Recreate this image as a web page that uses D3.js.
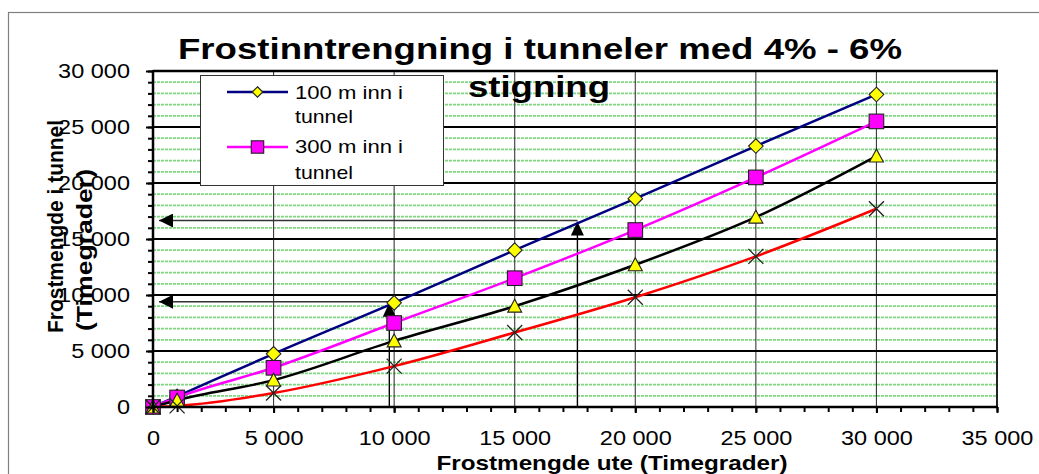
<!DOCTYPE html>
<html>
<head>
<meta charset="utf-8">
<script src="https://cdn.jsdelivr.net/npm/d3@7"></script>
<style>
  html, body { margin: 0; padding: 0; background: #fff; }
  svg { display: block; }
  text { font-family: "Liberation Sans", Arial, sans-serif; fill: #000; }
</style>
</head>
<body>
<svg id="chart" width="1039" height="474"></svg>
<script>
// ---------- data ----------
const xValues   = [0, 1000, 5000, 10000, 15000, 20000, 25000, 30000];
const s100m     = [0, 950, 4750, 9300, 14000, 18600, 23300, 27900];
const s300m     = [0, 850, 3500, 7500, 11500, 15800, 20500, 25500];
const sBlack    = [0, 600, 2400, 5900, 9000, 12700, 16950, 22400];
const sRed      = [0, 100, 1250, 3650, 6650, 9800, 13450, 17700];
const xTickVals = [0, 5000, 10000, 15000, 20000, 25000, 30000, 35000];
const yTickVals = [0, 5000, 10000, 15000, 20000, 25000, 30000];
const arrowX    = [9800, 17600];
const arrowY    = [9400, 16650];
const arrowTipX = 250;
const titleLines = ["Frostinntrengning i tunneler med 4% - 6%", "stigning"];
const xTitle = "Frostmengde ute (Timegrader)";
const yTitleLines = ["Frostmengde i tunnel", "(Timegrader)"];
const legendLabels = [["100 m inn i", "tunnel"], ["300 m inn i", "tunnel"]];

// ---------- setup ----------
const svg = d3.select("#chart");
const L = 153, R = 997, T = 71, B = 407;
const x = d3.scaleLinear().domain([0, 35000]).range([L, R]);
const y = d3.scaleLinear().domain([0, 30000]).range([B, T]);
const fmt = d => d3.format(",")(d).replace(/,/g, " ");

// outer frame
svg.append("rect").attr("x", 8.5).attr("y", 12.5).attr("width", 1040).attr("height", 470)
  .attr("fill", "#fff").attr("stroke", "#808080").attr("stroke-width", 1.2);

// plot background
svg.append("rect").attr("x", L).attr("y", T).attr("width", R - L).attr("height", B - T).attr("fill", "#fff");

// minor green grid
const minorY = y.ticks(30).filter(v => v % 5000 !== 0);
svg.append("g").selectAll("line").data(minorY).join("line")
  .attr("x1", L).attr("x2", R).attr("y1", d => y(d)).attr("y2", d => y(d))
  .attr("stroke", "#7fd87f").attr("stroke-width", 1.7).attr("stroke-dasharray", "3,1");

// vertical grid
svg.append("g").selectAll("line").data(xTickVals.filter(v => v > 0 && v < 35000)).join("line")
  .attr("x1", d => x(d)).attr("x2", d => x(d)).attr("y1", T).attr("y2", B)
  .attr("stroke", "#3a3a3a").attr("stroke-width", 1.1);

// major horizontal grid
svg.append("g").selectAll("line").data(yTickVals.filter(v => v > 0)).join("line")
  .attr("x1", L).attr("x2", R).attr("y1", d => y(d)).attr("y2", d => y(d))
  .attr("stroke", "#000").attr("stroke-width", 2.2);

// right border
svg.append("line").attr("x1", R).attr("x2", R).attr("y1", T - 1).attr("y2", B)
  .attr("stroke", "#222").attr("stroke-width", 2);

// ---------- arrows ----------
const defs = svg.append("defs");
defs.append("marker").attr("id", "ahLeft").attr("markerUnits", "userSpaceOnUse")
  .attr("markerWidth", 16).attr("markerHeight", 16).attr("refX", 0).attr("refY", 7)
  .attr("orient", "0")
  .append("path").attr("d", "M0,7 L14,0 L14,14 Z").attr("fill", "#000");
defs.append("marker").attr("id", "ahUp").attr("markerUnits", "userSpaceOnUse")
  .attr("markerWidth", 16).attr("markerHeight", 16).attr("refX", 6.5).attr("refY", 0)
  .attr("orient", "0")
  .append("path").attr("d", "M6.5,0 L13,14 L0,14 Z").attr("fill", "#000");

const arrows = arrowX.map((ax, i) => ({ ax, ay: arrowY[i] }));
const ag = svg.append("g");
ag.selectAll("line.h").data(arrows).join("line").attr("class", "h")
  .attr("x1", d => x(d.ax)).attr("x2", x(arrowTipX)).attr("y1", d => y(d.ay)).attr("y2", d => y(d.ay))
  .attr("stroke", "#333").attr("stroke-width", 1.4).attr("marker-end", "url(#ahLeft)");
ag.selectAll("line.v").data(arrows).join("line").attr("class", "v")
  .attr("x1", d => x(d.ax)).attr("x2", d => x(d.ax)).attr("y1", B).attr("y2", d => y(d.ay) + 1)
  .attr("stroke", "#000").attr("stroke-width", 1.4).attr("marker-end", "url(#ahUp)");

// ---------- series ----------
const series = [
  { vals: s100m, color: "#000080", marker: "diamond" },
  { vals: s300m, color: "#ff00ff", marker: "square" },
  { vals: sBlack, color: "#000000", marker: "triangle" },
  { vals: sRed, color: "#ff0000", marker: "x" }
];
const line = d3.line().x(d => x(d[0])).y(d => y(d[1])).curve(d3.curveMonotoneX);
series.forEach(s => {
  const pts = xValues.map((xv, i) => [xv, s.vals[i]]);
  svg.append("path").datum(pts).attr("d", line)
    .attr("fill", "none").attr("stroke", s.color).attr("stroke-width", 2.5);
});

function drawMarker(g, type, cx, cy, k) {
  k = k || 1;
  if (type === "diamond") {
    const r = 7.3 * k;
    g.append("path").attr("d", `M${cx},${cy - r}L${cx + r},${cy}L${cx},${cy + r}L${cx - r},${cy}Z`)
      .attr("fill", "#ffff00").attr("stroke", "#222").attr("stroke-width", 1.1);
  } else if (type === "square") {
    const r = 7.3 * k;
    g.append("rect").attr("x", cx - r).attr("y", cy - r).attr("width", 2 * r).attr("height", 2 * r)
      .attr("fill", "#ff00ff").attr("stroke", "#222").attr("stroke-width", 1.1);
  } else if (type === "triangle") {
    const r = 7 * k;
    g.append("path").attr("d", `M${cx},${cy - r}L${cx + r},${cy + r * 0.85}L${cx - r},${cy + r * 0.85}Z`)
      .attr("fill", "#ffff00").attr("stroke", "#222").attr("stroke-width", 1.1);
  } else {
    const r = 7.5 * k;
    g.append("path").attr("d", `M${cx - r},${cy - r}L${cx + r},${cy + r}M${cx - r},${cy + r}L${cx + r},${cy - r}`)
      .attr("stroke", "#222").attr("stroke-width", 1.3).attr("fill", "none");
  }
}
series.forEach(s => {
  const g = svg.append("g");
  xValues.forEach((xv, i) => drawMarker(g, s.marker, x(xv), y(s.vals[i])));
});

// ---------- axes ----------
function stretchText(sel, sx) {
  sel.each(function () {
    const t = d3.select(this);
    const ax = +t.attr("x") || 0;
    t.attr("transform", `translate(${ax},0) scale(${sx},1) translate(${-ax},0)`);
  });
}
// y axis major (outward) with labels
const gy = svg.append("g").attr("transform", `translate(${L},0)`)
  .call(d3.axisLeft(y).tickValues(yTickVals).tickFormat(fmt).tickSize(7).tickPadding(16));
gy.select(".domain").remove();
gy.selectAll("line").attr("stroke", "#000").attr("stroke-width", 2);
gy.selectAll("text").attr("font-size", 21).attr("font-family", "Liberation Sans, Arial, sans-serif").call(stretchText, 1.12);
// y minor
const gym = svg.append("g").attr("transform", `translate(${L},0)`)
  .call(d3.axisLeft(y).ticks(30).tickFormat("").tickSize(5));
gym.select(".domain").remove();
gym.selectAll("line").attr("stroke", "#000").attr("stroke-width", 2);
// x axis major
const gx = svg.append("g").attr("transform", `translate(0,${B})`)
  .call(d3.axisBottom(x).tickValues(xTickVals).tickFormat(fmt).tickSize(6).tickPadding(17));
gx.select(".domain").remove();
gx.selectAll("line").attr("stroke", "#000").attr("stroke-width", 2);
gx.selectAll("text").attr("font-size", 21).attr("font-family", "Liberation Sans, Arial, sans-serif").call(stretchText, 1.12);
// x minor
const gxm = svg.append("g").attr("transform", `translate(0,${B})`)
  .call(d3.axisBottom(x).ticks(35).tickFormat("").tickSize(5));
gxm.select(".domain").remove();
gxm.selectAll("line").attr("stroke", "#000").attr("stroke-width", 2);

// axis lines
svg.append("line").attr("x1", L).attr("x2", L).attr("y1", T - 1).attr("y2", B + 1).attr("stroke", "#000").attr("stroke-width", 2.5);
svg.append("line").attr("x1", L).attr("x2", R + 1).attr("y1", B).attr("y2", B).attr("stroke", "#000").attr("stroke-width", 2.5);
svg.append("line").attr("x1", L).attr("x2", R + 1).attr("y1", T).attr("y2", T).attr("stroke", "#000").attr("stroke-width", 2.5);

// ---------- legend ----------
const lg = svg.append("g");
lg.append("rect").attr("x", 200.5).attr("y", 75.5).attr("width", 243).attr("height", 110)
  .attr("fill", "#fff").attr("stroke", "#333").attr("stroke-width", 1);
const legendRows = [
  { lineY: 92, color: "#000080", marker: "diamond", k: 0.72, base: [99, 123] },
  { lineY: 147, color: "#ff00ff", marker: "square", k: 0.85, base: [153, 179] }
];
legendRows.forEach((r, i) => {
  lg.append("line").attr("x1", 227).attr("x2", 288).attr("y1", r.lineY).attr("y2", r.lineY)
    .attr("stroke", r.color).attr("stroke-width", 2.5);
  drawMarker(lg, r.marker, 257.5, r.lineY, r.k);
  lg.append("text").attr("x", 295).attr("y", r.base[0]).attr("font-size", 19)
    .attr("textLength", 108).attr("lengthAdjust", "spacingAndGlyphs").text(legendLabels[i][0]);
  lg.append("text").attr("x", 295).attr("y", r.base[1]).attr("font-size", 19)
    .attr("textLength", 58).attr("lengthAdjust", "spacingAndGlyphs").text(legendLabels[i][1]);
});

// ---------- titles ----------
svg.append("text").attr("x", 540).attr("y", 59).attr("text-anchor", "middle")
  .attr("font-size", 30).attr("font-weight", "bold")
  .attr("textLength", 724).attr("lengthAdjust", "spacingAndGlyphs").text(titleLines[0]);
svg.append("text").attr("x", 539).attr("y", 97).attr("text-anchor", "middle")
  .attr("font-size", 30).attr("font-weight", "bold")
  .attr("textLength", 142).attr("lengthAdjust", "spacingAndGlyphs").text(titleLines[1]);

svg.append("text").attr("x", 612).attr("y", 470).attr("text-anchor", "middle")
  .attr("font-size", 21).attr("font-weight", "bold")
  .attr("textLength", 351).attr("lengthAdjust", "spacingAndGlyphs").text(xTitle);

svg.append("text").attr("transform", "translate(63,333) rotate(-90)").attr("text-anchor", "start")
  .attr("font-size", 22).attr("font-weight", "bold")
  .attr("textLength", 213).attr("lengthAdjust", "spacingAndGlyphs").text(yTitleLines[0]);
svg.append("text").attr("transform", "translate(92,331) rotate(-90)").attr("text-anchor", "start")
  .attr("font-size", 22).attr("font-weight", "bold")
  .attr("textLength", 162).attr("lengthAdjust", "spacingAndGlyphs").text(yTitleLines[1]);
</script>
</body>
</html>
